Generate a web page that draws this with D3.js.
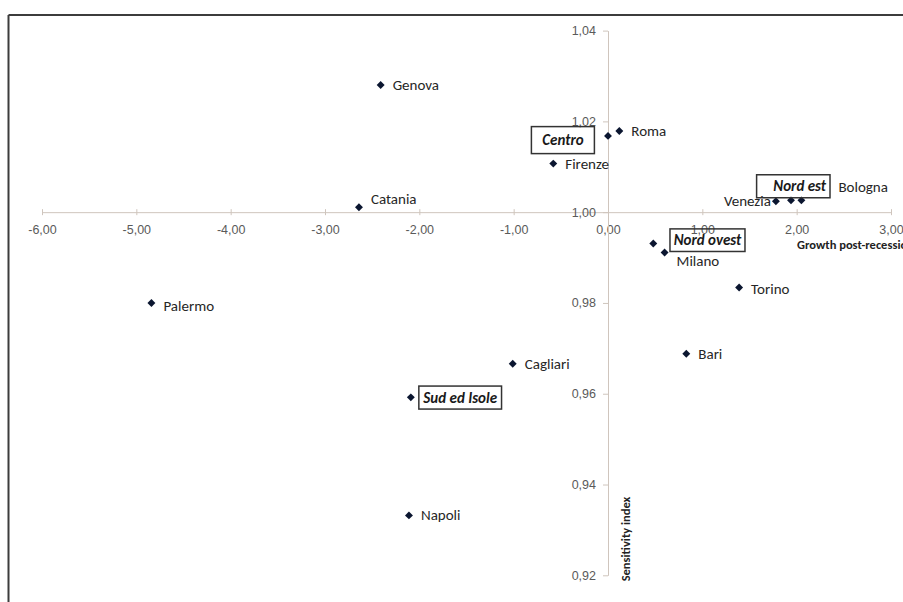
<!DOCTYPE html>
<html>
<head>
<meta charset="utf-8">
<script src="https://cdn.jsdelivr.net/npm/d3@7"></script>
<style>
  body { margin: 0; background: #fff; }
  svg { display: block; font-family: Calibri, Carlito, 'Open Sans', sans-serif; }
</style>
</head>
<body>
<svg id="chart" width="903" height="602"></svg>
<script>
'use strict'

// cities: growth post-recession (x) vs sensitivity index (y)
const cities = ['Genova', 'Catania', 'Palermo', 'Roma', 'Firenze', 'Venezia', 'Bologna', 'Milano', 'Torino', 'Bari', 'Cagliari', 'Napoli']
const growth = [-2.41, -2.64, -4.84, 0.12, -0.58, 1.78, 2.05, 0.60, 1.39, 0.83, -1.01, -2.11]
const sensitivity = [1.028, 1.0011, 0.980, 1.0179, 1.0107, 1.0024, 1.0026, 0.9911, 0.9834, 0.9688, 0.9666, 0.9332]

// macro areas, drawn with boxed labels
const areas = ['Centro', 'Nord est', 'Nord ovest', 'Sud ed Isole']
const areaGrowth = [0.00, 1.94, 0.48, -2.09]
const areaSensitivity = [1.0168, 1.0026, 0.9931, 0.9592]

// axis ticks
const xTicks = [-6, -5, -4, -3, -2, -1, 0, 1, 2, 3]
const yTicks = [0.92, 0.94, 0.96, 0.98, 1.00, 1.02, 1.04]

const svg = d3.select('#chart')

// frame (only top + left edges show in the crop)
svg.append('line').attr('x1', 8.5).attr('x2', 903).attr('y1', 15).attr('y2', 15)
  .attr('stroke', '#3c3c3c').attr('stroke-width', 2)
svg.append('line').attr('x1', 8.5).attr('x2', 8.5).attr('y1', 15).attr('y2', 602)
  .attr('stroke', '#3c3c3c').attr('stroke-width', 2)

const x = d3.scaleLinear().domain([-6, 3]).range([42, 891])
const y = d3.scaleLinear().domain([0.92, 1.04]).range([575.3, 30.6])

// comma decimals, plain hyphen minus
const loc = d3.formatLocale({ decimal: ',', thousands: '.', grouping: [3], currency: ['', ''], minus: '-' })
const f2 = loc.format('.2f')

const axisCol = '#cfc5bd'
const tickTxt = '#5a5a5a'

// x axis crosses at y = 1.00
const gx = svg.append('g').attr('transform', `translate(0,${y(1.00)})`)
  .call(d3.axisBottom(x).tickValues(xTicks).tickFormat(f2).tickSizeInner(3).tickSizeOuter(0).tickPadding(10))
gx.select('.domain').attr('stroke', axisCol)
gx.selectAll('.tick line').attr('stroke', axisCol).attr('y1', -3)
gx.selectAll('.tick text').attr('fill', tickTxt).style('font-size', '12.5px')

// y axis crosses at x = 0
const gy = svg.append('g').attr('transform', `translate(${x(0)},0)`)
  .call(d3.axisLeft(y).tickValues(yTicks).tickFormat(f2).tickSizeInner(5).tickSizeOuter(0).tickPadding(7))
gy.select('.domain').attr('stroke', axisCol)
gy.selectAll('.tick line').attr('stroke', axisCol)
gy.selectAll('.tick text').attr('fill', tickTxt).style('font-size', '12.5px')

// axis titles
svg.append('text').attr('x', 797).attr('y', 249)
  .style('font-size', '12.5px').style('font-weight', 'bold').attr('fill', '#222')
  .text('Growth post-recession')
svg.append('text').attr('transform', `translate(630,539) rotate(-90)`).attr('text-anchor', 'middle')
  .style('font-size', '12.5px').style('font-weight', 'bold').attr('fill', '#222')
  .text('Sensitivity index')

const marker = d3.symbol().type(d3.symbolDiamond2).size(40)
const markCol = '#0b1630'

// label placement for each city: [dx, dy, anchor]
const cityLab = {
  Genova: [12, 5, 'start'], Catania: [12, -3, 'start'], Palermo: [12, 8, 'start'],
  Roma: [12, 5, 'start'], Firenze: [12, 5, 'start'], Venezia: [-5, 5, 'end'],
  Bologna: [37, -8, 'start'], Milano: [12, 13, 'start'], Torino: [12, 6, 'start'],
  Bari: [12, 5, 'start'], Cagliari: [12, 5, 'start'], Napoli: [12, 5, 'start']
}

const pts = cities.map((c, i) => ({ name: c, gx: growth[i], sy: sensitivity[i] }))
const cg = svg.append('g')
cg.selectAll('path').data(pts).join('path')
  .attr('d', marker).attr('fill', markCol)
  .attr('transform', d => `translate(${x(d.gx)},${y(d.sy)})`)
cg.selectAll('text').data(pts).join('text')
  .attr('x', d => x(d.gx) + cityLab[d.name][0])
  .attr('y', d => y(d.sy) + cityLab[d.name][1])
  .attr('text-anchor', d => cityLab[d.name][2])
  .attr('fill', '#262626').style('font-size', '15px')
  .text(d => d.name)

// boxes for macro areas relative to point: [left, top, width, height]
const areaBox = {
  'Centro': [-76.6, -9.3, 63, 27],
  'Nord est': [-34.4, -25.6, 73.4, 23],
  'Nord ovest': [16.7, -14.6, 75, 22.6],
  'Sud ed Isole': [8, -11.3, 82.7, 23]
}

const aPts = areas.map((a, i) => ({ name: a, gx: areaGrowth[i], sy: areaSensitivity[i] }))
const ag = svg.append('g')
ag.selectAll('path').data(aPts).join('path')
  .attr('d', marker).attr('fill', markCol)
  .attr('transform', d => `translate(${x(d.gx)},${y(d.sy)})`)
const box = ag.selectAll('g.box').data(aPts).join('g').attr('class', 'box')
  .attr('transform', d => `translate(${x(d.gx)},${y(d.sy)})`)
box.append('rect')
  .attr('x', d => areaBox[d.name][0]).attr('y', d => areaBox[d.name][1])
  .attr('width', d => areaBox[d.name][2]).attr('height', d => areaBox[d.name][3])
  .attr('fill', 'none').attr('stroke', '#333').attr('stroke-width', 1.5)
box.append('text')
  .attr('x', d => d.name === 'Nord est' ? areaBox[d.name][0] + areaBox[d.name][2] - 4 : areaBox[d.name][0] + areaBox[d.name][2] / 2)
  .attr('y', d => areaBox[d.name][1] + areaBox[d.name][3] / 2 + 5)
  .attr('text-anchor', d => d.name === 'Nord est' ? 'end' : 'middle')
  .style('font-size', '15px').style('font-weight', 'bold').style('font-style', 'italic')
  .attr('fill', '#1a1a1a')
  .text(d => d.name)
</script>
</body>
</html>
